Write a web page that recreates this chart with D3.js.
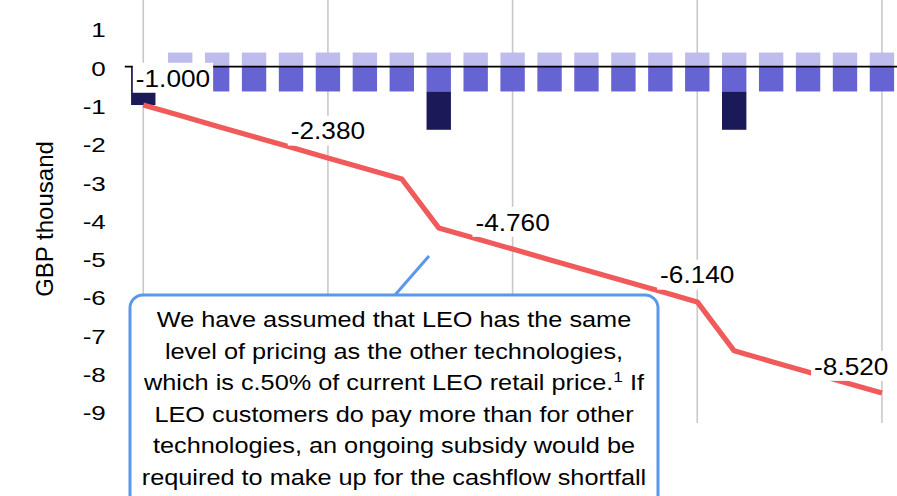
<!DOCTYPE html>
<html>
<head>
<meta charset="utf-8">
<script src="https://cdn.jsdelivr.net/npm/d3@7/dist/d3.min.js"></script>
<style>
  html, body { margin: 0; padding: 0; background: #fff; }
  svg { display: block; font-family: "Liberation Sans", Arial, sans-serif; }
</style>
</head>
<body>
<svg id="chart" width="897" height="496"></svg>
<script>
// Years of the cashflow profile
const years = [0, 1, 2, 3, 4, 5, 6, 7, 8, 9, 10, 11, 12, 13, 14, 15, 16, 17, 18, 19, 20];

// Annual components, GBP thousand
const revenue = [0, 0.37, 0.37, 0.37, 0.37, 0.37, 0.37, 0.37, 0.37, 0.37, 0.37,
                 0.37, 0.37, 0.37, 0.37, 0.37, 0.37, 0.37, 0.37, 0.37, 0.37];
const opex = [0, -0.646, -0.646, -0.646, -0.646, -0.646, -0.646, -0.646, -0.646, -0.646, -0.646,
              -0.646, -0.646, -0.646, -0.646, -0.646, -0.646, -0.646, -0.646, -0.646, -0.646];
const capex = [-1.0, 0, 0, 0, 0, 0, 0, 0, -1.0, 0, 0,
               0, 0, 0, 0, 0, -1.0, 0, 0, 0, 0];

// Cumulative cashflow, GBP thousand
const cumulative = [-1.000, -1.276, -1.552, -1.828, -2.104, -2.380, -2.656, -2.932, -4.208, -4.484, -4.760,
                    -5.036, -5.312, -5.588, -5.864, -6.140, -7.416, -7.692, -7.968, -8.244, -8.520];

// Years that carry a value label on the cumulative line
const labelledYears = [0, 5, 10, 15, 20];

// Vertical gridlines every five years
const gridYears = [0, 5, 10, 15, 20];

// Value axis ticks
const yTicks = [1, 0, -1, -2, -3, -4, -5, -6, -7, -8, -9];

const axisTitle = "GBP thousand";

const noteLines = [
  ["We have assumed that LEO has the same"],
  ["level of pricing as the other technologies,"],
  ["which is c.50% of current LEO retail price.", "1", " If"],
  ["LEO customers do pay more than for other"],
  ["technologies, an ongoing subsidy would be"],
  ["required to make up for the cashflow shortfall"]
];

const colors = {
  revenue: "#BEBCEC",
  opex: "#6663D3",
  capex: "#1B1957",
  line: "#F05A5A",
  grid: "#C8C8C8",
  note: "#5B97EA"
};

const svg = d3.select("#chart");

const plot = { left: 124.8, right: 900.4, top: -9.9, bottom: 423 };

const x = d3.scaleBand()
  .domain(years)
  .range([plot.left, plot.right])
  .paddingInner(0.34)
  .paddingOuter(0.17);

const y = d3.scaleLinear()
  .domain([-9.3, 2])
  .range([plot.bottom, plot.top]);

const cx = d => x(d) + x.bandwidth() / 2;

const fmt = d3.formatLocale({
  decimal: ".", thousands: ",", grouping: [3], currency: ["£", ""], minus: "-"
}).format(".3f");

// Gridlines
svg.append("g")
  .selectAll("line")
  .data(gridYears)
  .join("line")
  .attr("x1", cx).attr("x2", cx)
  .attr("y1", y(2)).attr("y2", plot.bottom)
  .attr("stroke", colors.grid)
  .attr("stroke-width", 1.6);

// Stacked bars (positive above zero, negatives stacked downward)
const rows = years.map((yr, i) => ({ year: yr, revenue: revenue[i], opex: opex[i], capex: capex[i] }));
const stack = d3.stack()
  .keys(["revenue", "opex", "capex"])
  .offset(d3.stackOffsetDiverging);
const series = stack(rows);

svg.append("g")
  .selectAll("g")
  .data(series)
  .join("g")
  .attr("fill", s => colors[s.key])
  .selectAll("rect")
  .data(s => s.filter(d => d[1] !== d[0]))
  .join("rect")
  .attr("x", d => x(d.data.year))
  .attr("width", x.bandwidth())
  .attr("y", d => y(Math.max(d[0], d[1])))
  .attr("height", d => Math.abs(y(d[0]) - y(d[1])));

// Zero line
svg.append("line")
  .attr("x1", plot.left).attr("x2", plot.right)
  .attr("y1", y(0)).attr("y2", y(0))
  .attr("stroke", "#000")
  .attr("stroke-width", 1.8);

// Value axis labels
const yAxis = d3.axisLeft(y)
  .tickValues(yTicks)
  .tickFormat(d3.format("d"))
  .tickSize(0);

const yAxisG = svg.append("g")
  .attr("transform", `translate(${plot.left},0)`)
  .call(yAxis);
yAxisG.select(".domain").remove();
yAxisG.selectAll("text")
  .attr("x", 0)
  .attr("dy", "0.42em")
  .attr("transform", "translate(-19,0) scale(1.3,1)")
  .attr("fill", "#000")
  .style("font-family", "'Liberation Sans', Arial, sans-serif")
  .style("font-size", "20px");
yAxisG.selectAll("text").text(d => d3.format("d")(d).replace("\u2212", "-"));

// Axis title
svg.append("text")
  .attr("transform", "translate(53,219) rotate(-90)")
  .attr("text-anchor", "middle")
  .style("font-size", "24px")
  .attr("fill", "#000")
  .text(axisTitle);

// Cumulative cashflow line
const line = d3.line()
  .x((d, i) => cx(years[i]))
  .y(d => y(d));

svg.append("path")
  .datum(cumulative)
  .attr("d", line)
  .attr("fill", "none")
  .attr("stroke", colors.line)
  .attr("stroke-width", 5.2)
  .attr("stroke-linejoin", "round");

// Value labels on the line, each on a white backing box
const labelSize = 24.5, labelSx = 1.07;
const labelG = svg.append("g");
labelledYears.forEach(yr => {
  const i = years.indexOf(yr);
  const v = cumulative[i];
  const g = labelG.append("g");
  const rect = g.append("rect").attr("fill", "#fff");
  const t = g.append("text")
    .attr("text-anchor", "middle")
    .style("font-size", labelSize + "px")
    .attr("fill", "#000")
    .text(fmt(v));
  const w = t.node().getComputedTextLength() * labelSx;
  const boxW = w + 6, boxH = 30;
  let centerX = cx(yr);
  const minX = plot.left + 8 + boxW / 2, maxX = plot.right - 9 - boxW / 2;
  centerX = Math.max(minX, Math.min(maxX, centerX));
  const baseline = y(v) - 18.5;
  const inkMid = baseline - 0.358 * labelSize;
  t.attr("transform", `translate(${centerX},${baseline}) scale(${labelSx},1)`);
  rect.attr("x", centerX - boxW / 2).attr("y", inkMid - boxH / 2)
    .attr("width", boxW).attr("height", boxH);
});

// Explanatory note with pointer
const note = { x: 130, y: 295, w: 528, h: 230, r: 13 };
const noteG = svg.append("g");
noteG.append("line")
  .attr("x1", 395).attr("y1", note.y)
  .attr("x2", 429).attr("y2", 256)
  .attr("stroke", colors.note)
  .attr("stroke-width", 3);
noteG.append("rect")
  .attr("x", note.x).attr("y", note.y)
  .attr("width", note.w).attr("height", note.h)
  .attr("rx", note.r).attr("ry", note.r)
  .attr("fill", "#fff")
  .attr("stroke", colors.note)
  .attr("stroke-width", 3);

const noteText = noteG.append("g")
  .attr("transform", `translate(${note.x + note.w / 2},0) scale(1.15,1)`);
noteLines.forEach((parts, li) => {
  const t = noteText.append("text")
    .attr("x", 0)
    .attr("y", 327 + li * 31.6)
    .attr("text-anchor", "middle")
    .style("font-size", "22px")
    .attr("fill", "#000");
  if (parts.length === 1) {
    t.text(parts[0]);
  } else {
    t.append("tspan").text(parts[0]);
    t.append("tspan").attr("dy", -8).style("font-size", "15px").text(parts[1]);
    t.append("tspan").attr("dy", 8).text(parts[2]);
  }
});
</script>
</body>
</html>
